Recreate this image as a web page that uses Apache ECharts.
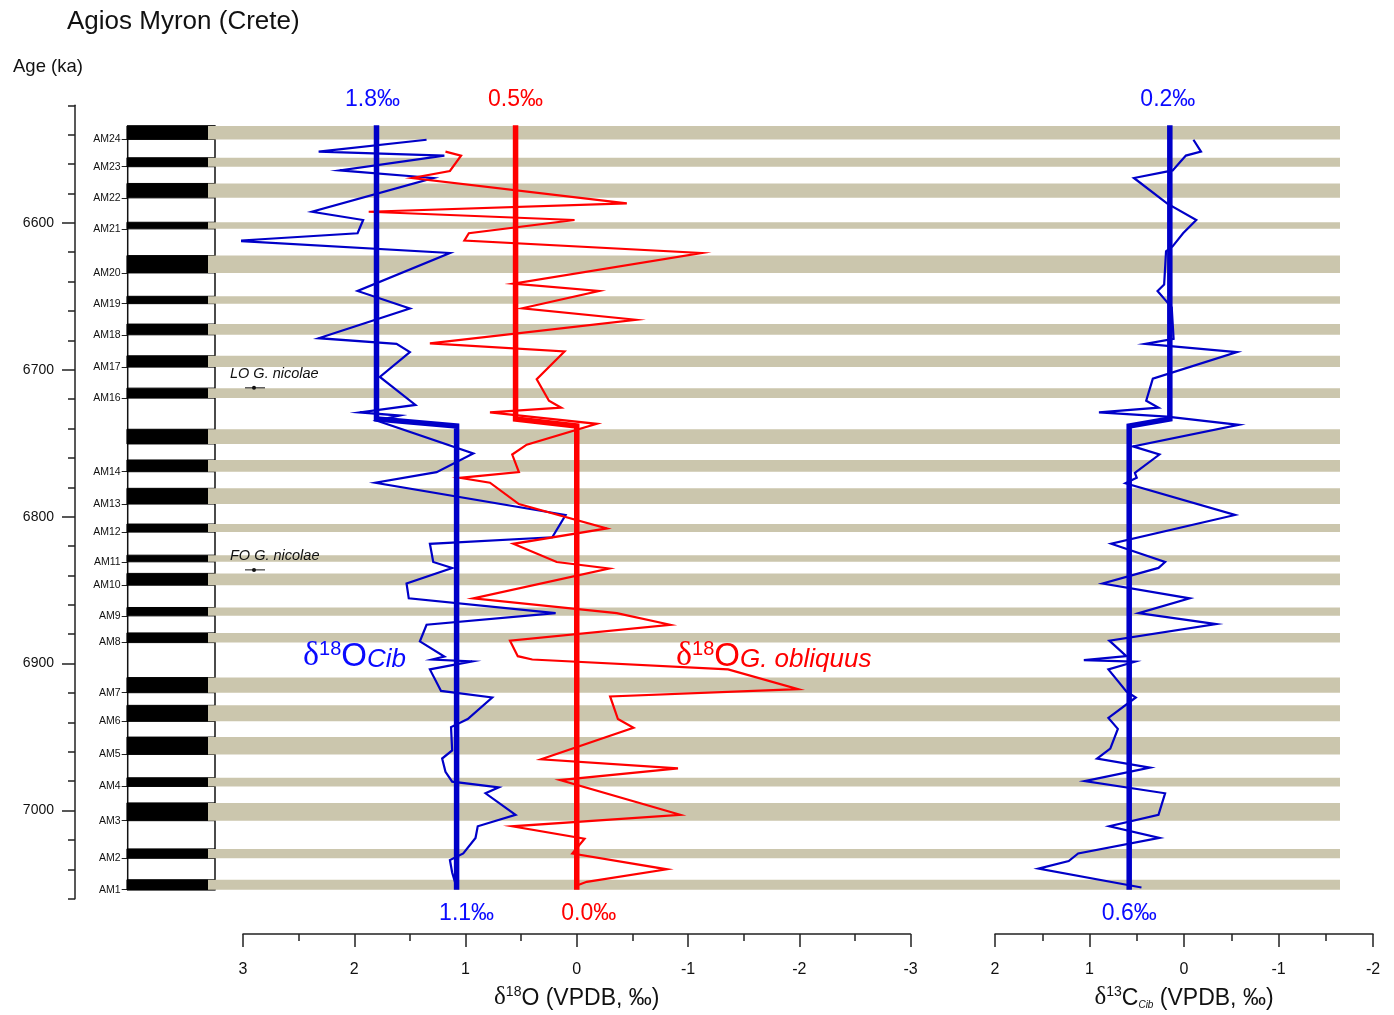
<!DOCTYPE html>
<html><head><meta charset="utf-8">
<script src="https://cdn.jsdelivr.net/npm/echarts@6.0.0/dist/echarts.min.js"></script>
<style>html,body{margin:0;padding:0;background:#fff}#c{width:1394px;height:1015px}</style>
</head><body><div id="c"></div><script>
// ---------------- DATA ----------------
// Sapropel (black) layers: top and base ages (ka) and names
const bandTop  = [6534.1, 6555.7, 6573.2, 6599.6, 6622.3, 6650.0, 6668.9, 6690.5, 6712.5, 6740.5, 6761.4, 6780.7, 6805.0, 6826.2, 6838.6, 6861.8, 6879.1, 6909.5, 6928.4, 6950.0, 6977.7, 6994.8, 7026.1, 7047.1];
const bandBase = [6543.2, 6561.8, 6583.0, 6604.1, 6634.1, 6655.0, 6676.2, 6698.2, 6719.3, 6750.5, 6769.4, 6791.4, 6810.5, 6830.7, 6846.6, 6867.5, 6885.7, 6919.8, 6939.3, 6961.8, 6983.6, 7006.9, 7032.5, 7053.9];
const bandNames = ['AM24','AM23','AM22','AM21','AM20','AM19','AM18','AM17','AM16','','AM14','AM13','AM12','AM11','AM10','AM9','AM8','AM7','AM6','AM5','AM4','AM3','AM2','AM1'];

// d18O Cibicidoides
const agesCib = [6543.7,6551.9,6554.6,6564.8,6570.0,6593.2,6598.9,6608.0,6613.2,6621.6,6647.7,6659.8,6680.2,6684.1,6689.8,6706.8,6726.1,6731.2,6733.4,6736.8,6759.5,6772.3,6779.6,6801.8,6817.1,6821.6,6834.1,6838.2,6848.9,6859.1,6869.3,6877.3,6888.7,6899.1,6901.2,6902.5,6908.0,6922.8,6927.3,6942.1,6947.7,6963.7,6969.3,6978.4,6985.2,6989.1,6993.2,7008.0,7015.9,7023.9,7034.6,7039.1,7047.7,7058.0];
const d18OCib = [1.35,2.32,1.19,2.13,1.29,2.38,1.92,1.97,3.06,1.14,1.97,1.50,2.32,1.62,1.50,1.77,1.45,1.95,1.59,1.80,0.93,1.26,1.81,0.10,0.22,1.32,1.29,1.12,1.53,1.51,0.19,1.35,1.41,1.19,1.30,0.94,1.32,1.22,0.76,0.98,1.13,1.12,1.21,1.18,1.12,0.70,0.82,0.55,0.89,0.91,1.02,1.14,1.12,1.08];

// d18O G. obliquus
const agesGob = [6551.9,6554.6,6565.2,6570.0,6587.5,6593.2,6598.9,6608.0,6613.0,6621.6,6642.7,6647.7,6659.6,6667.5,6683.7,6689.3,6708.4,6723.2,6728.0,6731.2,6739.1,6753.4,6760.2,6772.3,6776.2,6779.6,6794.3,6811.0,6821.6,6834.1,6838.6,6859.1,6869.3,6877.3,6888.2,6898.9,6901.2,6908.0,6921.6,6926.6,6942.1,6948.2,6969.8,6976.1,6984.1,7008.0,7015.9,7024.4,7034.6,7045.5,7054.1,7056.6];
const d18OGob = [1.18,1.04,1.14,1.48,-0.45,1.87,0.02,0.97,1.01,-1.12,0.57,-0.20,0.49,-0.53,1.32,0.11,0.36,0.25,0.14,0.78,-0.18,0.45,0.58,0.52,1.05,0.78,0.52,-0.27,0.57,0.18,-0.29,0.93,-0.36,-0.84,0.60,0.53,0.40,-1.36,-1.99,-0.30,-0.37,-0.51,0.32,-0.91,0.15,-0.93,0.58,-0.07,0.04,-0.81,-0.09,0.00];

// d13C Cibicidoides
const agesC13 = [6543.7,6551.9,6554.6,6564.8,6570.0,6587.5,6598.9,6608.0,6617.0,6620.5,6643.2,6647.7,6654.5,6659.1,6680.7,6684.1,6689.8,6708.0,6723.2,6728.0,6731.2,6734.1,6739.8,6754.6,6760.2,6772.8,6776.2,6780.0,6801.8,6821.6,6834.1,6838.2,6848.9,6859.1,6869.3,6876.8,6888.2,6898.9,6901.6,6902.7,6908.0,6923.2,6927.3,6941.4,6948.9,6962.5,6969.3,6975.5,6984.8,6993.2,7008.0,7015.9,7023.9,7034.6,7039.8,7045.0,7058.0];
const d13CCib = [-0.10,-0.18,-0.02,0.12,0.53,0.18,-0.13,0.01,0.12,0.19,0.21,0.28,0.19,0.13,0.11,0.41,-0.56,0.33,0.40,0.27,0.90,0.18,-0.58,0.54,0.26,0.52,0.50,0.62,-0.54,0.77,0.20,0.27,0.86,-0.06,0.48,-0.34,0.79,0.61,1.06,0.52,0.80,0.61,0.51,0.80,0.70,0.78,0.92,0.36,1.05,0.20,0.27,0.79,0.26,1.12,1.22,1.54,0.45];

// Mean values (two intervals)
const meanAges    = [6533.7, 6735.8, 6740.6, 7059.5];
const meanCib     = [1.80, 1.80, 1.08, 1.08];
const meanGob     = [0.55, 0.55, 0.00, 0.00];
const meanC13     = [0.15, 0.15, 0.58, 0.58];
const meanLabels  = { cib: ['1.8‰', '1.1‰'], gob: ['0.5‰', '0.0‰'], c13: ['0.2‰', '0.6‰'] };

// Biostratigraphic events
const events = [{ name: 'LO G. nicolae', age: 6712.3 }, { name: 'FO G. nicolae', age: 6836.2 }];

// Axis ticks
const ageMajorTicks = [6600, 6700, 6800, 6900, 7000];

// ---------------- CHART ----------------
const FONT = '"Liberation Sans", Arial, sans-serif';
const SERIF = '"Liberation Serif", "Times New Roman", serif';
const BLUE = '#0000c8', BLUE_T = '#0a0aff', RED = '#ff0000';
const Y_MIN = 6520, Y_MAX = 7060;
const TOP = 105.3, HEIGHT = 793.4;
const BAND_COLOR = '#cbc6ad';

const chart = echarts.init(document.getElementById('c'));
const zip = (xs, ys) => xs.map((x, i) => [x, ys[i]]);

function hiddenY(g) { return { type: 'value', gridIndex: g, min: Y_MIN, max: Y_MAX, inverse: true, show: false, axisLine: { onZero: false } }; }
function hiddenX(g) { return { type: 'value', gridIndex: g, min: 0, max: 1, show: false, axisLine: { onZero: false } }; }
function isoX(g, min, max, nameRich, name, nameGap) {
  return {
    type: 'value', gridIndex: g, min: min, max: max, interval: 1, inverse: true,
    position: 'bottom', offset: 43.6,
    axisLine: { show: true, onZero: false, lineStyle: { color: '#222', width: 1.5 } },
    axisTick: { show: true, length: 13, lineStyle: { color: '#222', width: 1.5 } },
    minorTick: { show: true, splitNumber: 2, length: 7, lineStyle: { color: '#222', width: 1.5 } },
    axisLabel: { fontSize: 16, color: '#111', margin: 28, fontFamily: FONT },
    splitLine: { show: false },
    name: name, nameLocation: 'middle', nameGap: nameGap,
    nameTextStyle: { color: '#111', fontFamily: FONT, rich: nameRich }
  };
}
const nameRich = {
  d: { fontSize: 25, fontFamily: SERIF, color: '#111', verticalAlign: 'bottom' },
  s: { fontSize: 14, fontFamily: FONT, color: '#111', verticalAlign: 'top' },
  n: { fontSize: 23, fontFamily: FONT, color: '#111', verticalAlign: 'bottom' },
  c: { fontSize: 10, fontFamily: FONT, fontStyle: 'italic', color: '#111', verticalAlign: 'bottom' }
};

function lineSeries(xi, yi, data, color, width, z) {
  return { type: 'line', xAxisIndex: xi, yAxisIndex: yi, data: data, showSymbol: false, symbol: 'none',
    lineStyle: { color: color, width: width, join: 'miter' }, itemStyle: { color: color },
    silent: true, animation: false, z: z, clip: false };
}
const amTicks = bandBase.filter((b, i) => bandNames[i]);

const option = {
  animation: false,
  backgroundColor: '#fff',
  textStyle: { fontFamily: FONT },
  grid: [
    { left: 127.7, width: 87.3, top: TOP, height: HEIGHT },   // lithology column
    { left: 208, right: 54, top: TOP, height: HEIGHT },        // sapropel bands
    { left: 243, right: 483.5, top: TOP, height: HEIGHT },     // d18O
    { left: 995, right: 21, top: TOP, height: HEIGHT }         // d13C
  ],
  xAxis: [
    hiddenX(0), hiddenX(1),
    isoX(2, -3, 3, nameRich, '{d|δ}{s|18}{n|O (VPDB, ‰)}', 51),
    isoX(3, -2, 2, nameRich, '{d|δ}{s|13}{n|C}{c|Cib}{n| (VPDB, ‰)}', 51)
  ],
  yAxis: [
    { type: 'value', gridIndex: 0, min: Y_MIN, max: Y_MAX, interval: 20, inverse: true, position: 'left', offset: 52.7,
      axisLine: { show: true, onZero: false, lineStyle: { color: '#222', width: 1.5 } },
      axisTick: { show: true, length: 7, lineStyle: { color: '#222', width: 1.5 } },
      axisLabel: { show: false }, splitLine: { show: false } },
    { type: 'value', gridIndex: 0, min: Y_MIN, max: Y_MAX, inverse: true, position: 'left', offset: 52.7,
      axisLine: { show: false, onZero: false },
      axisTick: { show: true, customValues: ageMajorTicks, length: 13, lineStyle: { color: '#222', width: 1.5 } },
      axisLabel: { show: true, customValues: ageMajorTicks, fontSize: 14, color: '#111', margin: 21, fontFamily: FONT,
        formatter: v => String(Math.round(v)) },
      splitLine: { show: false } },
    { type: 'value', gridIndex: 0, min: Y_MIN, max: Y_MAX, inverse: true, position: 'left', offset: 0,
      axisLine: { show: false, onZero: false },
      axisTick: { show: true, customValues: amTicks, length: 6, lineStyle: { color: '#222', width: 1 } },
      axisLabel: { show: true, customValues: amTicks, fontSize: 10.5, color: '#111', margin: 7, fontFamily: FONT,
        formatter: v => { const i = bandBase.findIndex(b => Math.abs(b - v) < 0.01); return i >= 0 ? bandNames[i] : ''; } },
      splitLine: { show: false } },
    hiddenY(1), hiddenY(2), hiddenY(3)
  ],
  series: [
    { type: 'custom', xAxisIndex: 0, yAxisIndex: 0, silent: true, z: 1,
      data: [[bandTop[0], bandBase[bandBase.length - 1]]],
      renderItem: (params, api) => {
        const p0 = api.coord([0, api.value(0)]), p1 = api.coord([1, api.value(1)]);
        return { type: 'rect', shape: { x: p0[0], y: p0[1], width: p1[0] - p0[0], height: p1[1] - p0[1] },
          style: { fill: '#fff', stroke: '#111', lineWidth: 1.5 } };
      } },
    { type: 'custom', xAxisIndex: 0, yAxisIndex: 0, silent: true, z: 2,
      data: zip(bandTop, bandBase),
      renderItem: (params, api) => {
        const p0 = api.coord([0, api.value(0)]), p1 = api.coord([1, api.value(1)]);
        return { type: 'rect', shape: { x: p0[0] - 0.75, y: p0[1], width: p1[0] - p0[0] + 0.75, height: p1[1] - p0[1] },
          style: { fill: '#000', stroke: '#000', lineWidth: 1 } };
      } },
    { type: 'custom', xAxisIndex: 1, yAxisIndex: 3, silent: true, z: 3,
      data: zip(bandTop, bandBase),
      renderItem: (params, api) => {
        const p0 = api.coord([0, api.value(0)]), p1 = api.coord([1, api.value(1)]);
        return { type: 'rect', shape: { x: p0[0], y: p0[1], width: p1[0] - p0[0], height: p1[1] - p0[1] },
          style: { fill: BAND_COLOR } };
      } },
    lineSeries(2, 4, zip(d18OCib, agesCib), BLUE, 2.2, 5),
    lineSeries(2, 4, zip(d18OGob, agesGob), RED, 2.2, 5),
    lineSeries(2, 4, zip(meanCib, meanAges), BLUE, 5.5, 6),
    lineSeries(2, 4, zip(meanGob, meanAges), RED, 5.5, 6),
    lineSeries(3, 5, zip(d13CCib, agesC13), BLUE, 2.2, 5),
    lineSeries(3, 5, zip(meanC13, meanAges), BLUE, 5.5, 6)
  ]
};
chart.setOption(option);

// --------- annotations positioned through the axes ---------
const P = (g, v, a) => chart.convertToPixel({ gridIndex: g }, [v, a]);
const last = meanAges.length - 1;
const valText = (x, y, text, color) => ({ type: 'text', x: x, y: y, z: 20,
  style: { text: text, fontSize: 23, fontFamily: FONT, fill: color, align: 'center', verticalAlign: 'middle' } });
const g = [];
let p;
p = P(2, meanCib[0], meanAges[0]);   g.push(valText(p[0] - 4, p[1] - 26, meanLabels.cib[0], BLUE_T));
p = P(2, meanGob[0], meanAges[0]);   g.push(valText(p[0], p[1] - 26, meanLabels.gob[0], RED));
p = P(3, meanC13[0], meanAges[0]);   g.push(valText(p[0] - 2, p[1] - 26, meanLabels.c13[0], BLUE_T));
p = P(2, meanCib[last], meanAges[last]); g.push(valText(p[0] + 10, p[1] + 24, meanLabels.cib[1], BLUE_T));
p = P(2, meanGob[last], meanAges[last]); g.push(valText(p[0] + 12, p[1] + 24, meanLabels.gob[1], RED));
p = P(3, meanC13[last], meanAges[last]); g.push(valText(p[0], p[1] + 24, meanLabels.c13[1], BLUE_T));

// Titles
g.push({ type: 'text', x: 67, y: 22, style: { text: 'Agios Myron (Crete)', fontSize: 26, fontFamily: FONT, fill: '#111', align: 'left', verticalAlign: 'middle' } });
g.push({ type: 'text', x: 13, y: 67, style: { text: 'Age (ka)', fontSize: 18.5, fontFamily: FONT, fill: '#111', align: 'left', verticalAlign: 'middle' } });

// Series names
function seriesName(x, y, sub, color) {
  return { type: 'text', x: x, y: y, z: 20, style: {
    text: '{d|δ}{s|18}{o|O}{i|' + sub + '}', align: 'left', verticalAlign: 'middle', fill: color,
    rich: {
      d: { fontSize: 34, fontFamily: SERIF, fill: color, verticalAlign: 'bottom' },
      s: { fontSize: 20, fontFamily: FONT, fill: color, verticalAlign: 'top' },
      o: { fontSize: 33, fontFamily: FONT, fill: color, verticalAlign: 'bottom' },
      i: { fontSize: 26, fontFamily: FONT, fontStyle: 'italic', fill: color, verticalAlign: 'bottom' }
    } } };
}
g.push(seriesName(303, 656, 'Cib', BLUE_T));
g.push(seriesName(676, 656, 'G. obliquus', RED));

// Events
events.forEach(ev => {
  const q = P(1, 0, ev.age);
  g.push({ type: 'text', x: 230, y: q[1] - 14, z: 20, style: { text: ev.name, fontSize: 14.5, fontStyle: 'italic', fontFamily: FONT, fill: '#111', align: 'left', verticalAlign: 'middle' } });
  g.push({ type: 'line', z: 20, shape: { x1: 245, y1: q[1], x2: 265, y2: q[1] }, style: { stroke: '#111', lineWidth: 1 } });
  g.push({ type: 'circle', z: 20, shape: { cx: 254, cy: q[1], r: 2 }, style: { fill: '#111' } });
});
chart.setOption({ graphic: g });
</script></body></html>
